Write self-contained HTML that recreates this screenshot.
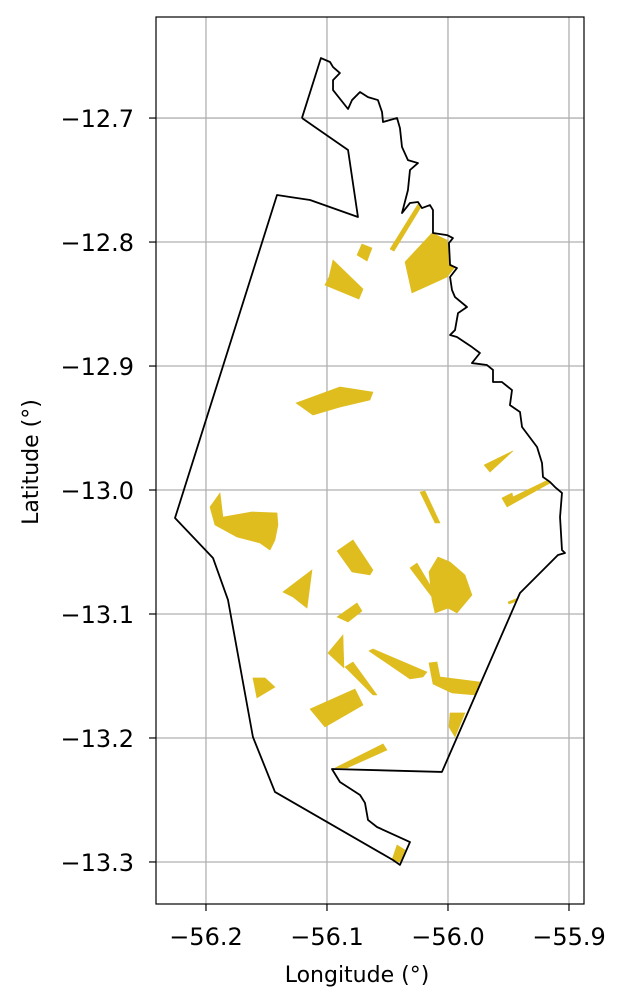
<!DOCTYPE html>
<html><head><meta charset="utf-8"><title>Map</title>
<style>html,body{margin:0;padding:0;background:#fff;}svg{display:block;}</style></head>
<body>
<svg id="chart" width="628" height="1006" xmlns="http://www.w3.org/2000/svg" font-family="DejaVu Sans, Liberation Sans, sans-serif"></svg>
<script>
const xTicks = [-56.2, -56.1, -56.0, -55.9];
const xTickLabels = ["\u221256.2", "\u221256.1", "\u221256.0", "\u221255.9"];
const yTicks = [-12.7, -12.8, -12.9, -13.0, -13.1, -13.2, -13.3];
const yTickLabels = ["\u221212.7", "\u221212.8", "\u221212.9", "\u221213.0", "\u221213.1", "\u221213.2", "\u221213.3"];
const boundary = [[-56.1207,-12.7000],[-56.1050,-12.6516],[-56.0975,-12.6548],[-56.0950,-12.6589],[-56.0893,-12.6637],[-56.0950,-12.6694],[-56.0950,-12.6774],[-56.0826,-12.6927],[-56.0793,-12.6855],[-56.0727,-12.6790],[-56.0661,-12.6831],[-56.0579,-12.6855],[-56.0545,-12.6952],[-56.0537,-12.7032],[-56.0421,-12.7000],[-56.0397,-12.7081],[-56.0380,-12.7234],[-56.0331,-12.7339],[-56.0248,-12.7363],[-56.0314,-12.7419],[-56.0331,-12.7581],[-56.0380,-12.7766],[-56.0314,-12.7685],[-56.0248,-12.7677],[-56.0215,-12.7726],[-56.0149,-12.7702],[-56.0124,-12.7742],[-56.0124,-12.7927],[-56.0008,-12.7944],[-55.9959,-12.7968],[-55.9992,-12.8008],[-55.9983,-12.8185],[-55.9926,-12.8210],[-55.9983,-12.8282],[-55.9967,-12.8387],[-55.9942,-12.8444],[-55.9843,-12.8524],[-55.9917,-12.8573],[-55.9942,-12.8710],[-55.9983,-12.8750],[-55.9926,-12.8766],[-55.9802,-12.8847],[-55.9736,-12.8895],[-55.9802,-12.8976],[-55.9678,-12.8992],[-55.9628,-12.9032],[-55.9628,-12.9129],[-55.9554,-12.9129],[-55.9471,-12.9194],[-55.9488,-12.9315],[-55.9405,-12.9371],[-55.9388,-12.9492],[-55.9264,-12.9653],[-55.9223,-12.9782],[-55.9215,-12.9895],[-55.9157,-12.9935],[-55.9116,-12.9976],[-55.9058,-13.0024],[-55.9074,-13.0218],[-55.9058,-13.0484],[-55.9033,-13.0508],[-55.9091,-13.0524],[-55.9405,-13.0831],[-56.0050,-13.2274],[-56.0959,-13.2250],[-56.0893,-13.2355],[-56.0727,-13.2460],[-56.0686,-13.2524],[-56.0661,-13.2661],[-56.0587,-13.2718],[-56.0314,-13.2839],[-56.0397,-13.3024],[-56.0455,-13.2984],[-56.1430,-13.2435],[-56.1612,-13.1992],[-56.1818,-13.0887],[-56.1942,-13.0548],[-56.2256,-13.0226],[-56.1413,-12.7621],[-56.1306,-12.7637],[-56.1140,-12.7661],[-56.0744,-12.7798],[-56.0826,-12.7258],[-56.1207,-12.7000]];
const fields = [
[[-56.0355,-12.8161],[-56.0132,-12.7927],[-56.0008,-12.7984],[-55.9992,-12.8169],[-55.9942,-12.8202],[-56.0008,-12.8282],[-56.0298,-12.8411]],
[[-56.0479,-12.8056],[-56.0248,-12.7694],[-56.0223,-12.7718],[-56.0446,-12.8073]],
[[-56.0752,-12.8105],[-56.0711,-12.8016],[-56.0628,-12.8048],[-56.0669,-12.8153]],
[[-56.0950,-12.8145],[-56.0702,-12.8379],[-56.0736,-12.8460],[-56.1017,-12.8347],[-56.0983,-12.8282]],
[[-56.1256,-12.9298],[-56.0893,-12.9169],[-56.0620,-12.9210],[-56.0645,-12.9274],[-56.0893,-12.9331],[-56.1116,-12.9395]],
[[-55.9702,-12.9798],[-55.9463,-12.9685],[-55.9653,-12.9855]],
[[-55.9554,-13.0065],[-55.9471,-13.0024],[-55.9463,-13.0056],[-55.9174,-12.9919],[-55.9157,-12.9944],[-55.9512,-13.0137]],
[[-56.0231,-13.0016],[-56.0190,-13.0008],[-56.0066,-13.0266],[-56.0107,-13.0266]],
[[-56.1967,-13.0137],[-56.1884,-13.0024],[-56.1860,-13.0218],[-56.1620,-13.0177],[-56.1413,-13.0185],[-56.1405,-13.0282],[-56.1430,-13.0403],[-56.1471,-13.0484],[-56.1554,-13.0427],[-56.1744,-13.0379],[-56.1926,-13.0282]],
[[-56.0917,-13.0492],[-56.0785,-13.0403],[-56.0620,-13.0645],[-56.0645,-13.0685],[-56.0793,-13.0661]],
[[-56.1364,-13.0823],[-56.1124,-13.0645],[-56.1165,-13.0952],[-56.1281,-13.0863]],
[[-56.0917,-13.1024],[-56.0752,-13.0911],[-56.0711,-13.0976],[-56.0826,-13.1065]],
[[-56.0157,-13.0661],[-56.0083,-13.0540],[-55.9983,-13.0581],[-55.9860,-13.0685],[-55.9802,-13.0847],[-55.9926,-13.0992],[-56.0000,-13.0952],[-56.0107,-13.0992],[-56.0132,-13.0887]],
[[-56.0314,-13.0629],[-56.0256,-13.0589],[-56.0149,-13.0766],[-56.0132,-13.0863]],
[[-56.0992,-13.1315],[-56.0868,-13.1169],[-56.0860,-13.1435]],
[[-56.0851,-13.1427],[-56.0785,-13.1387],[-56.0587,-13.1653],[-56.0620,-13.1653]],
[[-56.0653,-13.1298],[-56.0620,-13.1282],[-56.0174,-13.1468],[-56.0207,-13.1508],[-56.0314,-13.1524]],
[[-56.0157,-13.1395],[-56.0091,-13.1387],[-56.0066,-13.1508],[-55.9736,-13.1548],[-55.9777,-13.1653],[-55.9967,-13.1637],[-56.0124,-13.1565]],
[[-56.1612,-13.1516],[-56.1512,-13.1516],[-56.1430,-13.1589],[-56.1579,-13.1677]],
[[-56.1140,-13.1766],[-56.0769,-13.1605],[-56.0702,-13.1734],[-56.1017,-13.1911]],
[[-55.9983,-13.1798],[-55.9860,-13.1798],[-55.9942,-13.1992],[-55.9992,-13.1911]],
[[-56.0934,-13.2242],[-56.0537,-13.2048],[-56.0504,-13.2097],[-56.0835,-13.2242]],
[[-56.0421,-13.2863],[-56.0355,-13.2903],[-56.0397,-13.3000],[-56.0463,-13.2984]],
[[-55.9504,-13.0903],[-55.9421,-13.0871],[-55.9430,-13.0895],[-55.9496,-13.0919]]
];

const L=156,R=584,T=17,B=904;
const lonMin=-56.2413, lonMax=-55.8876, latMax=-12.6185, latMin=-13.3339;
const xS = v => L + (v-lonMin)/(lonMax-lonMin)*(R-L);
const yS = v => T + (latMax-v)/(latMax-latMin)*(B-T);
const NS="http://www.w3.org/2000/svg";
const svg=document.getElementById('chart');
function mk(tag, attrs, parent){const e=document.createElementNS(NS,tag);for(const k in attrs)e.setAttribute(k,attrs[k]);(parent||svg).appendChild(e);return e;}
const pts = arr => arr.map(p=>xS(p[0]).toFixed(2)+','+yS(p[1]).toFixed(2)).join(' ');

const grid=mk('g',{});


xTicks.forEach((t,i)=>{
  const x=xS(t);
  const gl=mk('line',{x1:x,x2:x,y1:T,y2:B,stroke:'#b0b0b0','stroke-width':1.3},grid);
  
  
  const tk=mk('line',{x1:x,x2:x,y1:B,y2:B+7,stroke:'#000','stroke-width':1.2});
  
  
  const tl=mk('text',{x:x,y:945,'text-anchor':'middle','font-size':24,fill:'#000'});
  tl.textContent=xTickLabels[i];
  
  
});
yTicks.forEach((t,i)=>{
  const y=yS(t);
  const gl=mk('line',{x1:L,x2:R,y1:y,y2:y,stroke:'#b0b0b0','stroke-width':1.3},grid);
  
  
  const tk=mk('line',{x1:L-7,x2:L,y1:y,y2:y,stroke:'#000','stroke-width':1.2});
  
  
  const tl=mk('text',{x:L-22,y:y+9,'text-anchor':'end','font-size':24,fill:'#000'});
  tl.textContent=yTickLabels[i];
  
  
});

const fg=mk('g',{});


fields.forEach(f=>{
  const p=mk('polygon',{points:pts(f),fill:'#dfbd1f',stroke:'#dfbd1f','stroke-width':0.6},fg);
  
  
});

const bd=mk('polyline',{points:pts(boundary),fill:'none',stroke:'#000','stroke-width':1.8,'stroke-linejoin':'round'});



const frame=mk('rect',{x:L,y:T,width:R-L,height:B-T,fill:'none',stroke:'#000','stroke-width':1.2});



const xl=mk('text',{x:357,y:982,'text-anchor':'middle','font-size':22,fill:'#000'});
xl.textContent='Longitude (\u00b0)';


const yl=mk('text',{x:0,y:0,'text-anchor':'middle','font-size':22,fill:'#000',transform:'translate(38,462) rotate(-90)'});
yl.textContent='Latitude (\u00b0)';


</script>
</body></html>
